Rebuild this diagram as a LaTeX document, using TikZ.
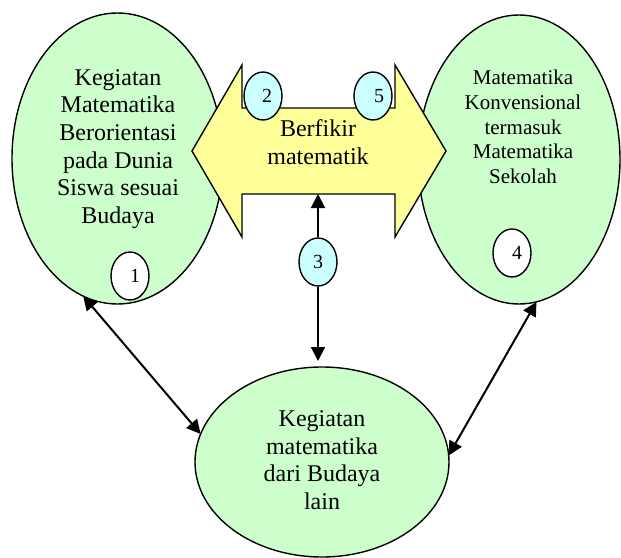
\documentclass[tikz,border=0pt]{standalone}
\usepackage{fontspec}
\setmainfont{Liberation Serif}
\usetikzlibrary{arrows.meta,shapes.geometric}
\definecolor{palegreen}{RGB}{204,255,204}
\definecolor{paleyellow}{RGB}{255,255,153}
\definecolor{palecyan}{RGB}{204,255,255}

\begin{document}
\begin{tikzpicture}[x=0.5pt,y=-0.5pt,
    bigoval/.style={draw,ellipse,fill=palegreen,line width=0.7pt,inner sep=0pt,outer sep=0pt},
    nomor/.style={draw,ellipse,line width=0.7pt,minimum width=19pt,minimum height=24pt,inner sep=0pt,font=\fontsize{10}{12}\selectfont},
    teks/.style={align=center,font=\fontsize{12}{13.8}\selectfont},
    tekskecil/.style={align=center,font=\fontsize{10.5}{12.4}\selectfont},
    panah/.style={{Triangle[length=7pt,width=7pt]}-{Triangle[length=7pt,width=7pt]},line width=1pt},
    panahsatu/.style={-{Triangle[length=7pt,width=7pt]},line width=1pt}]
    \useasboundingbox (0,0) rectangle (621,557);

    % Ovals
    \node[bigoval,minimum width=105.5pt,minimum height=145.5pt] (kiri) at (117.5,158.5) {};
    \node[bigoval,minimum width=101pt,minimum height=144.5pt] (kanan) at (519,159.5) {};
    \node[bigoval,minimum width=127pt,minimum height=95pt] (bawah) at (322,462) {};
    \node[teks] (kiri-t) at (118,149) {Kegiatan\\Matematika\\Berorientasi\\pada Dunia\\Siswa sesuai\\Budaya};
    \node[tekskecil] (kanan-t) at (523,127) {Matematika\\Konvensional\\termasuk\\Matematika\\Sekolah};
    \node[teks] (bawah-t) at (322,460) {Kegiatan\\matematika\\dari Budaya\\lain};

    % Berfikir arrow
    \draw[fill=paleyellow,line width=0.7pt] (192,151) -- (242,65) -- (242,108) -- (395,108) -- (395,65)
        -- (446,151) -- (395,237) -- (395,194) -- (242,194) -- (242,237) -- cycle;
    \node[teks] (pikir) at (318,142) {Berfikir\\matematik};
    \coordinate (shaft) at (318,194);

    % Connections
    \node[nomor,fill=palecyan] (three) at (318,262) {3};
    \draw[panahsatu] (three) -- (shaft);
    \draw[panahsatu,shorten >=3pt] (three) -- (three |- bawah.north);
    \draw[panah] (kiri.256) -- (bawah.167);
    \draw[panah] (kanan.277) -- (bawah.3);

    % Numbers
    \node[nomor,fill=palecyan] (two) at (263,96) {\hspace{4pt}2};
    \node[nomor,fill=palecyan] (five) at (373,96) {\hspace{6pt}5};
    \node[nomor,fill=white] (one) at (130,276) {\hspace{5pt}1};
    \node[nomor,fill=white] (four) at (512,253) {\hspace{5pt}4};
\end{tikzpicture}
\end{document}
